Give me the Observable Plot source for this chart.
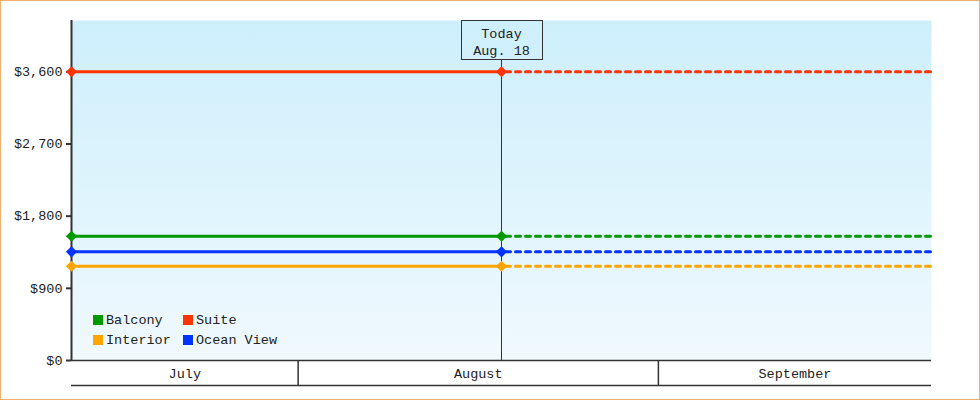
<!DOCTYPE html>
<html><head><meta charset="utf-8">
<script src="https://cdn.jsdelivr.net/npm/d3@7"></script>
<script src="https://cdn.jsdelivr.net/npm/@observablehq/plot@0.6"></script>
<style>
body{margin:0;background:#fff;}
#wrap{position:relative;width:980px;height:400px;font-family:"Liberation Mono",monospace;}
.legend{position:absolute;left:93px;top:313px;font-size:13.5px;color:#222;display:grid;grid-template-columns:90px auto;grid-auto-rows:20px;}
.legend span{display:flex;align-items:center;height:14px;}
.legend i{display:inline-block;width:10px;height:10px;margin-right:3px;}
</style></head>
<body>
<div id="wrap"></div>
<script>
// ---- data ----
const categories = ["Suite", "Balcony", "Ocean View", "Interior"];
const prices = [3600, 1550, 1355, 1175];
const palette = ["#ff3300", "#009900", "#0033ff", "#ffa500"];
const legendOrder = ["Balcony", "Suite", "Interior", "Ocean View"];
const todayDate = new Date("2024-08-18T12:00Z");
const todayLabel = ["Today", "Aug. 18"];
const windowDays = 37;
const monthNames = ["July", "August", "September"];
const monthStarts = [new Date("2024-07-01T00:00Z"), new Date("2024-08-01T00:00Z"), new Date("2024-09-01T00:00Z")];
const yTicks = [0, 900, 1800, 2700, 3600];
const yMax = 4240;

// ---- derived ----
const DAY = 864e5;
const startDate = new Date(+todayDate - windowDays * DAY);
const endDate = new Date(+todayDate + windowDays * DAY);
const past = [], future = [], dots = [];
categories.forEach((c, i) => {
  past.push({cat: c, date: startDate, price: prices[i]}, {cat: c, date: todayDate, price: prices[i]});
  future.push({cat: c, date: todayDate, price: prices[i]}, {cat: c, date: endDate, price: prices[i]});
  dots.push({cat: c, date: startDate, price: prices[i]}, {cat: c, date: todayDate, price: prices[i]});
});
const monthLabels = monthNames.map((m, i) => {
  const a = Math.max(+monthStarts[i], +startDate);
  const b = i + 1 < monthStarts.length ? +monthStarts[i + 1] : +endDate;
  return {name: m, mid: new Date((a + Math.min(b, +endDate)) / 2)};
});

const W = 980, H = 400, mL = 71, mR = 49, mT = 20, mB = 40;
const ink = "#333";
const FS = 13.5;
const chart = Plot.plot({
  width: W, height: H,
  marginLeft: mL, marginRight: mR, marginTop: mT, marginBottom: mB,
  style: {background: "#fff", fontFamily: "'Liberation Mono', monospace", fontSize: "13.5px", color: "#222", outline: "1px solid #eeb070", outlineOffset: "-1px", overflow: "visible"},
  x: {type: "utc", domain: [startDate, endDate]},
  y: {domain: [0, yMax]},
  color: {domain: categories, range: palette},
  marks: [
    Plot.frame({fill: "url(#bgGrad)", stroke: null}),
    Plot.ruleX([todayDate], {stroke: ink, strokeWidth: 1}),
    Plot.ruleX([startDate], {stroke: ink, strokeWidth: 2}),
    Plot.ruleY([0], {stroke: ink, strokeWidth: 1.5}),
    Plot.ruleY([0], {stroke: ink, strokeWidth: 1.5, dy: 25}),
    Plot.axisY({ticks: yTicks, tickSize: 5, tickPadding: 4, tickFormat: d => "$" + d3.format(",")(d), stroke: ink, strokeWidth: 2, fill: "#222", fontSize: FS, label: null}),
    Plot.axisX({ticks: monthStarts.filter(d => d > startDate && d < endDate), tickSize: 25, tickFormat: () => "", stroke: ink, strokeWidth: 1.5, label: null}),
    Plot.text(monthLabels, {x: "mid", text: "name", frameAnchor: "bottom", lineAnchor: "middle", dy: 13, fill: "#222", fontSize: FS}),
    Plot.line(past, {x: "date", y: "price", z: "cat", stroke: "cat", strokeWidth: 3}),
    Plot.line(future, {x: "date", y: "price", z: "cat", stroke: "cat", strokeWidth: 3, strokeDasharray: "5,5", strokeDashoffset: -4}),
    Plot.dot(dots, {x: "date", y: "price", fill: "cat", symbol: "diamond2", r: 5}),
    Plot.text([todayDate], {x: d => d, text: () => todayLabel.join("\n"), frameAnchor: "top", lineAnchor: "top", dy: 5, lineHeight: 1.28, fill: "#222", fontSize: FS, className: "today-label"})
  ]
});
const wrap = document.getElementById("wrap");
wrap.appendChild(chart);

// gradient background
const svg = d3.select(chart);
const defs = svg.insert("defs", ":first-child");
const grad = defs.append("linearGradient").attr("id", "bgGrad").attr("gradientUnits", "userSpaceOnUse")
  .attr("x1", 0).attr("x2", 0).attr("y1", mT).attr("y2", H - mB);
grad.append("stop").attr("offset", 0).attr("stop-color", "#cdeffc");
grad.append("stop").attr("offset", 1).attr("stop-color", "#f0f9fe");

// box behind today label
const tg = svg.select("g.today-label");
const bb = tg.node().getBBox();
const padX = 12;
const r = document.createElementNS("http://www.w3.org/2000/svg", "rect");
r.setAttribute("x", Math.round(bb.x - padX) + 0.5);
r.setAttribute("width", Math.round(bb.width + 2 * padX));
r.setAttribute("y", mT + 0.5);
r.setAttribute("height", Math.round(bb.y + bb.height + 5 - mT));
r.setAttribute("fill", "url(#bgGrad)"); r.setAttribute("stroke", ink); r.setAttribute("stroke-width", 1);
svg.node().insertBefore(r, tg.node());

// legend
const leg = document.createElement("div");
leg.className = "legend";
legendOrder.forEach(name => {
  const s = document.createElement("span");
  const sw = document.createElement("i");
  sw.style.background = palette[categories.indexOf(name)];
  s.appendChild(sw);
  s.appendChild(document.createTextNode(name));
  leg.appendChild(s);
});
wrap.appendChild(leg);
</script>
</body></html>
